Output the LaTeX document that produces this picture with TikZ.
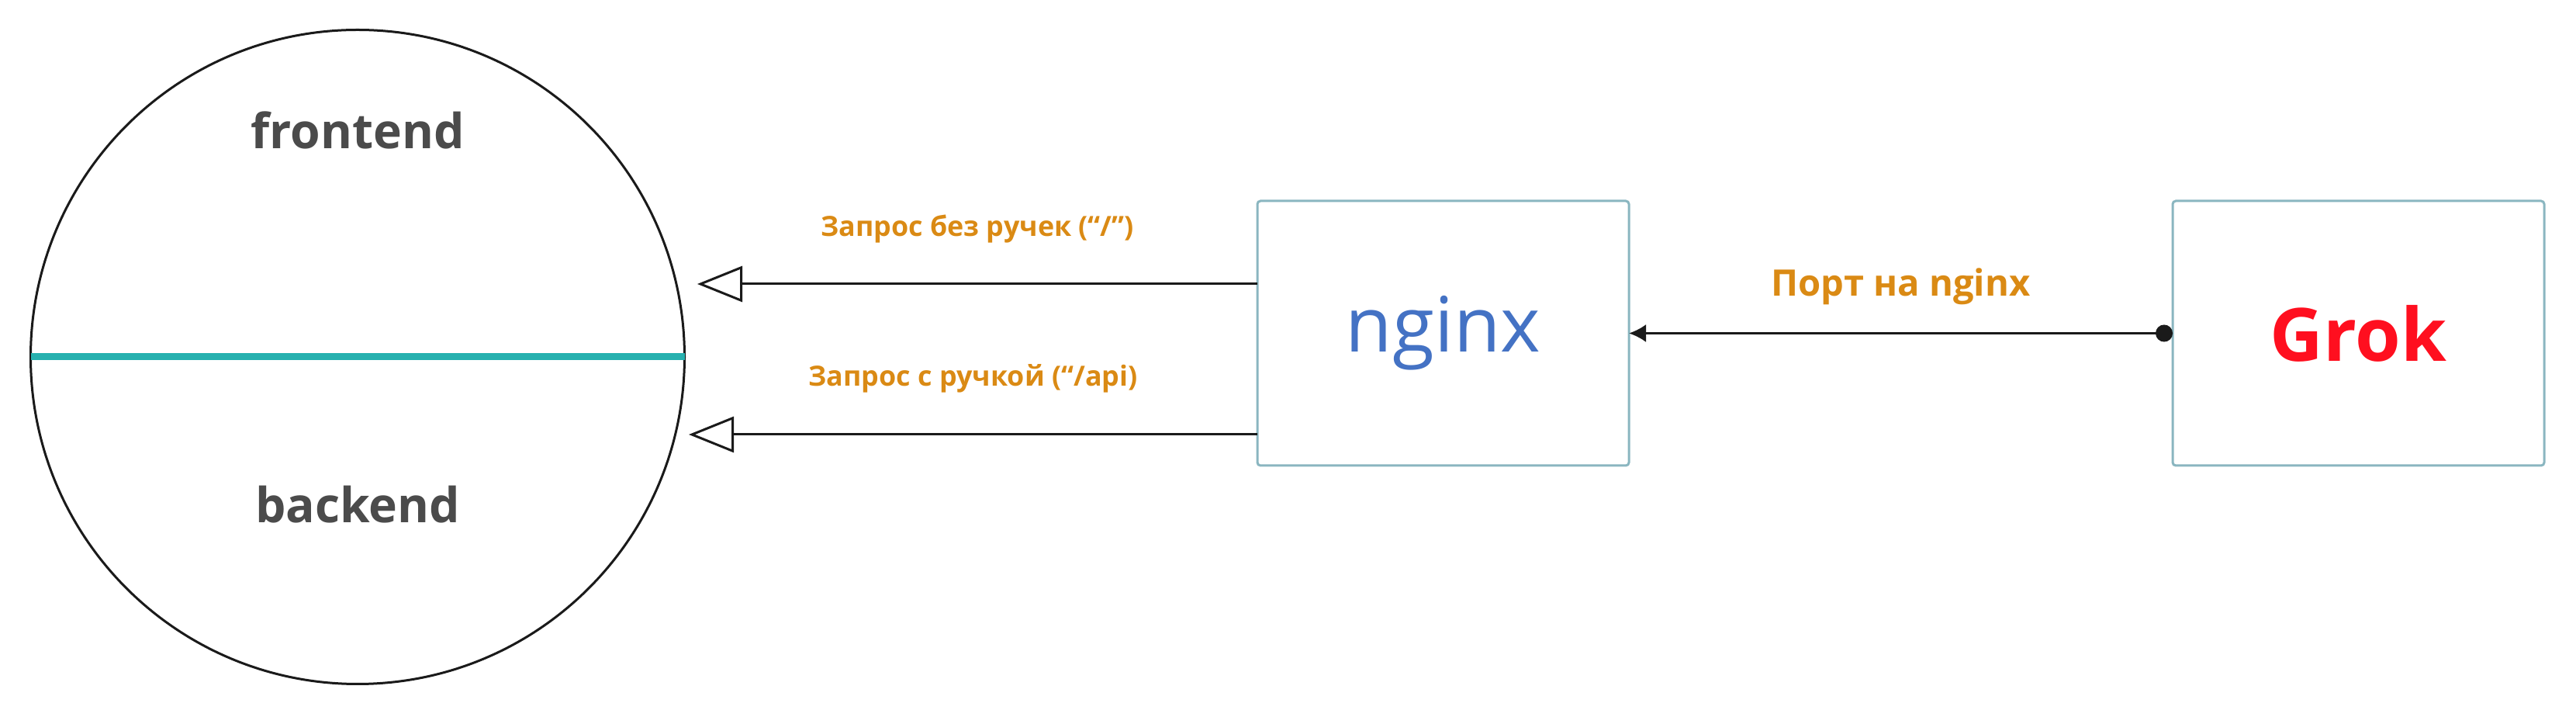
\documentclass[tikz,border=0pt]{standalone}
\usepackage{fontspec}
\setmainfont{Open Sans}
\usetikzlibrary{arrows.meta,positioning,calc}
\definecolor{lblorange}{HTML}{DA8A14}
\definecolor{partgray}{HTML}{4B4B4B}
\definecolor{splitteal}{HTML}{27B1AF}
\definecolor{boxline}{HTML}{8AB6C0}
\definecolor{nginxblue}{HTML}{4472C4}
\definecolor{grokred}{HTML}{FF0F1F}
\definecolor{wire}{HTML}{1A1A1A}

\begin{document}
\begin{tikzpicture}[>={Triangle[open,length=1.16cm,width=0.92cm]}, line width=0.06cm]

		\tikzstyle{block} = [rectangle, draw=boxline, rounded corners=0.08cm, minimum width=9.58cm, minimum height=6.82cm, outer sep=0, inner sep=0]
		\tikzstyle{part} = [text=partgray, font=\bfseries\fontsize{35.5}{38}\selectfont, anchor=base]
		\tikzstyle{lbl} = [text=lblorange, font=\bfseries\fontsize{20.4}{22}\selectfont, anchor=base]

		\useasboundingbox (0,0) rectangle (66.42,18.48);

		% Kreis mit den beiden Teilen
		\node [circle, draw=wire, minimum size=16.86cm, inner sep=0, outer sep=0] (app) at (9.22,9.28) {};
		\draw [splitteal, line width=0.18cm] (app.west) -- (app.east);
		\node [part] (front) at (9.22,14.64) {frontend};
		\node [part] (back) at (9.22,5.0) {backend};

		\node [block, text=nginxblue, font=\fontsize{56}{60}\selectfont] (nginx) at (37.21,9.89) {nginx};
		\node [block, right = 14.02cm of nginx, text=grokred, font=\bfseries\fontsize{54}{58}\selectfont] (grok) {Grok};

		% freie Enden der Pfeile
		\coordinate (tipfront) at (17.98,11.16);
		\coordinate (tipback) at (17.76,7.28);

		\draw [->, wire] (nginx.west |- tipfront) -- node[lbl, yshift=1.22cm] (qfront) {Запрос без ручек (“/”)} (tipfront);
		\draw [->, wire] (nginx.west |- tipback) -- node[lbl, yshift=1.24cm] (qback) {Запрос с ручкой (“/api)} (tipback);
		\draw [{Circle[length=0.44cm]}-{Latex[length=0.44cm,width=0.46cm]}, wire] (grok.west) -- node[lbl, yshift=0.95cm, font=\bfseries\fontsize{26.8}{29}\selectfont] (port) {Порт на nginx} (nginx.east);

\end{tikzpicture}
\end{document}
